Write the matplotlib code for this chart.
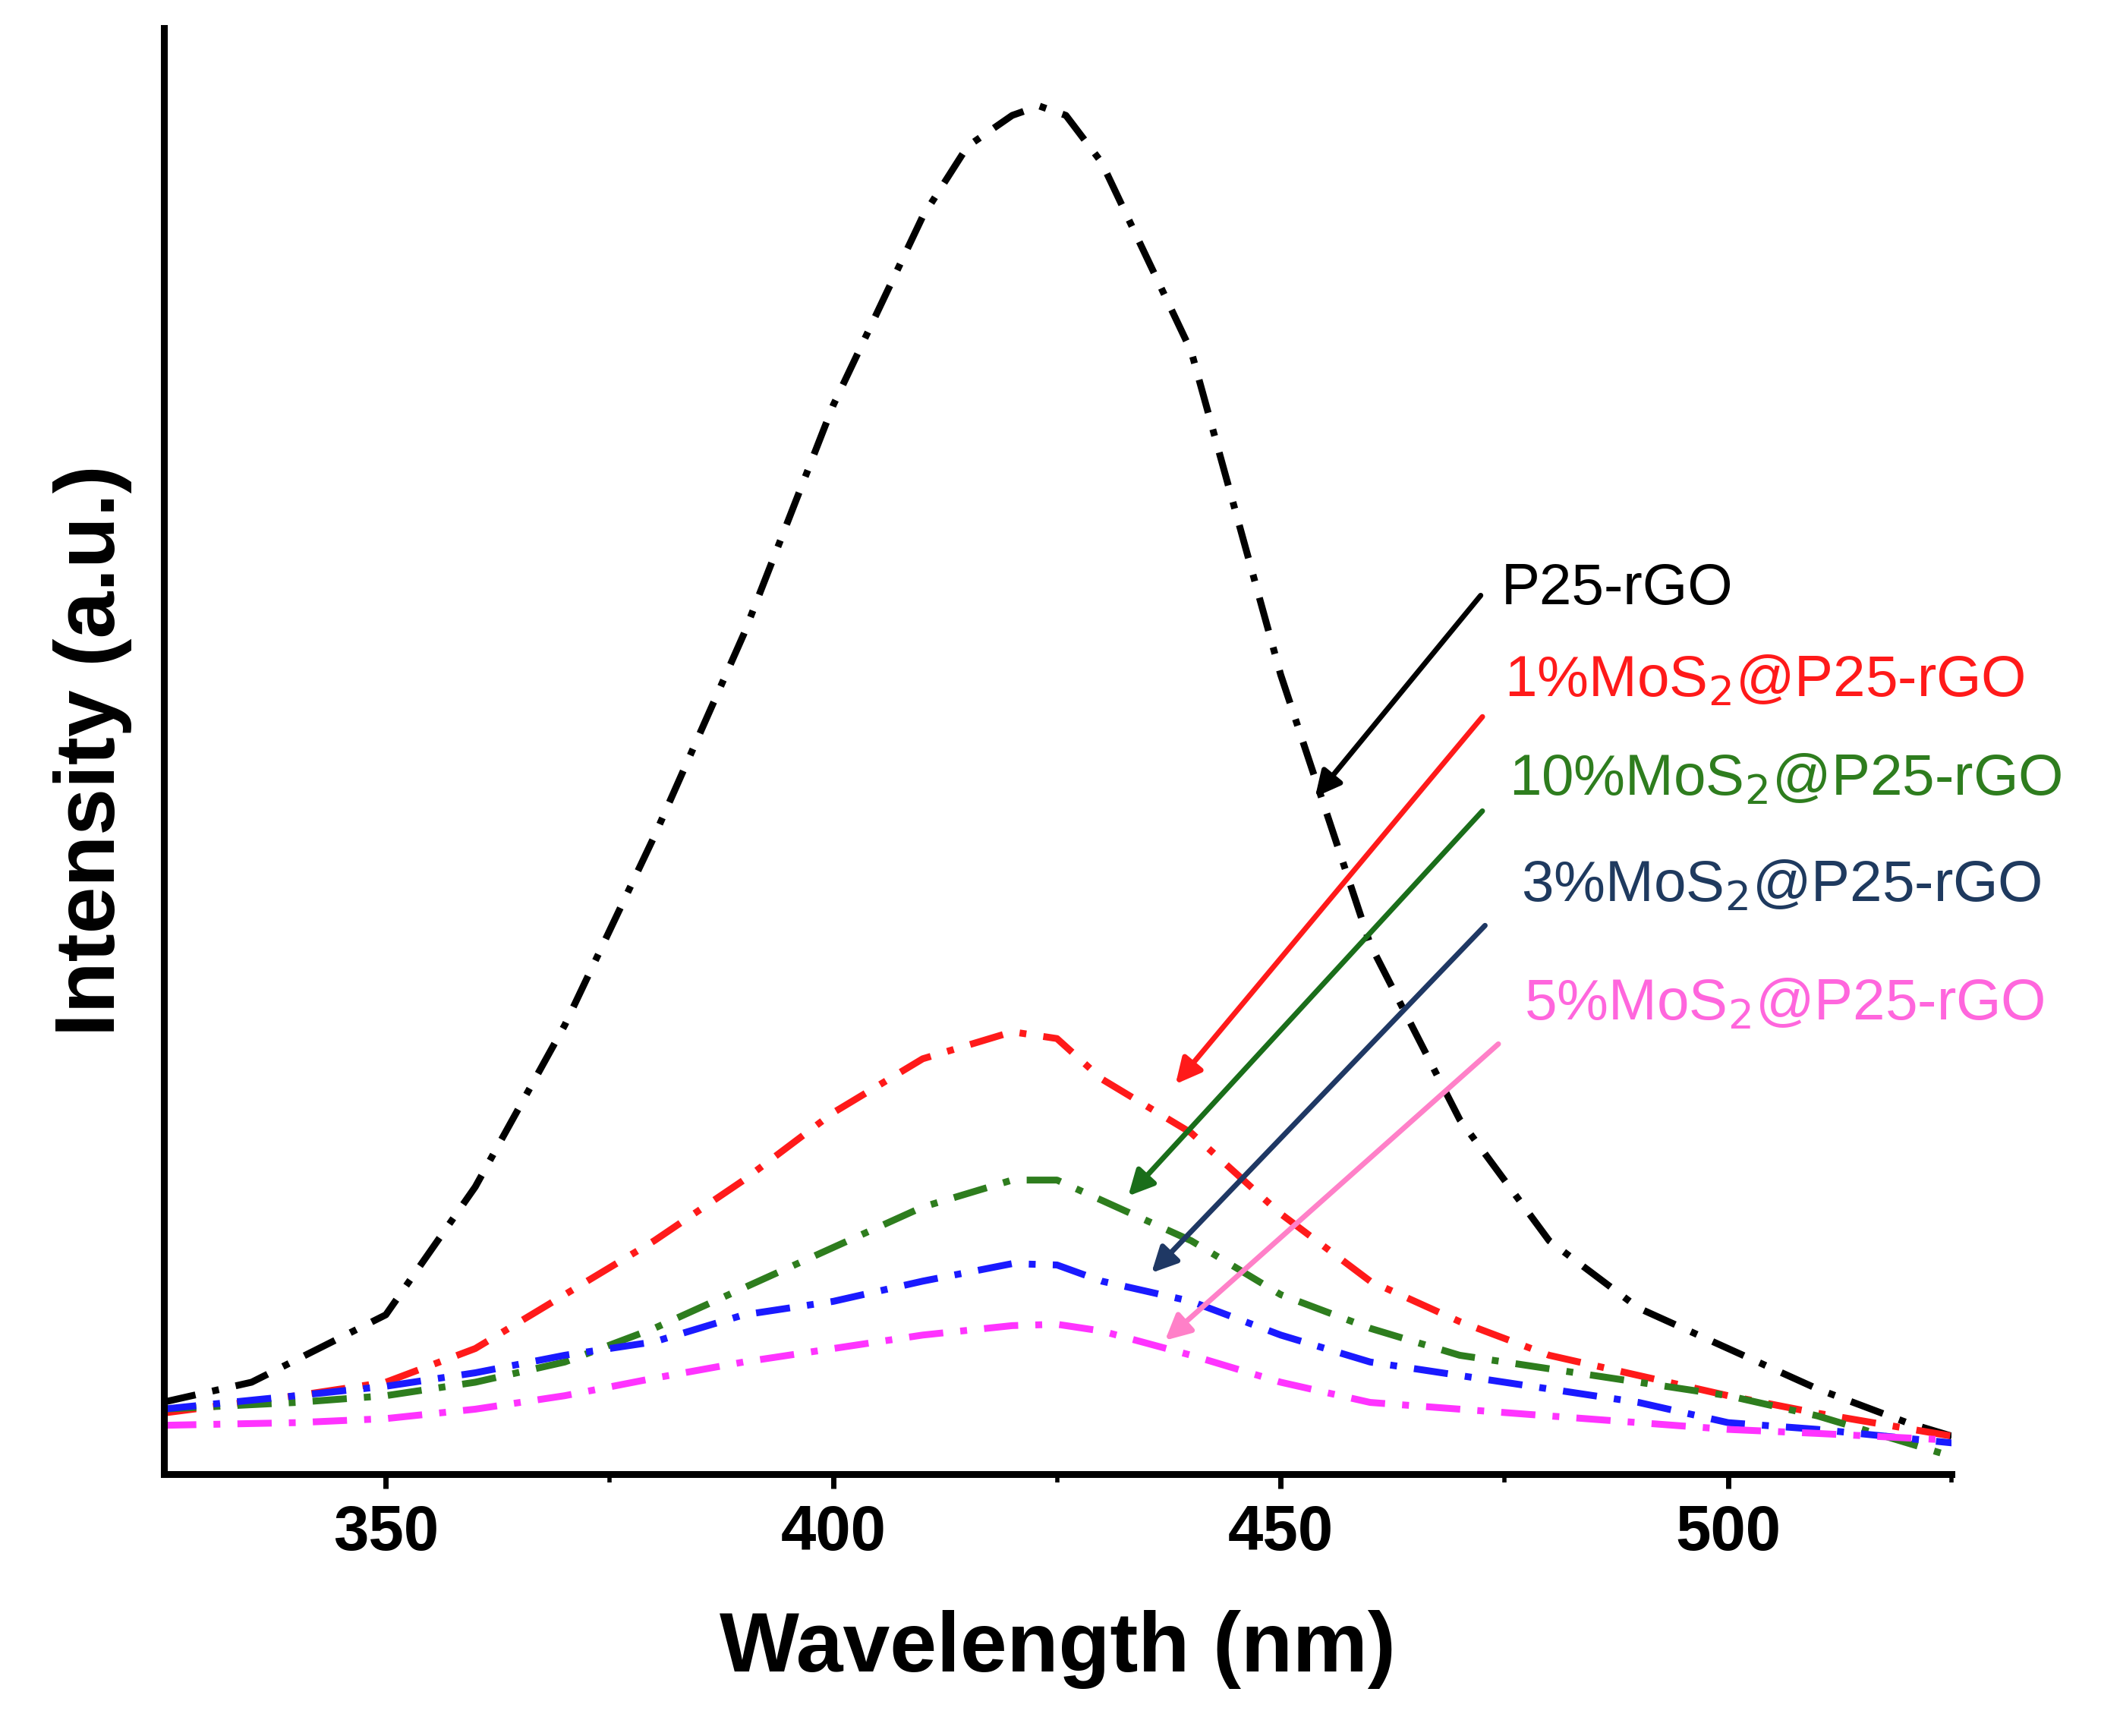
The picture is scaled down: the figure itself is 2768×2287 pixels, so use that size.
import numpy as np
import matplotlib.pyplot as plt
from matplotlib.ticker import MultipleLocator

plt.rcParams['font.family'] = 'Liberation Sans'

# wavelength grid (nm) and read-off intensities (a.u.)
wl = [325, 335, 350, 360, 370, 380, 390, 400, 410, 415, 420, 423, 426, 430, 440, 450, 460, 470, 480, 490, 500, 510, 520, 525]
p25 = [53, 68, 118, 213, 333, 473, 623, 793, 933, 985, 1008, 1015, 1008, 973, 833, 593, 393, 263, 173, 123, 93, 63, 38, 28]

wl2 = [325, 340, 350, 360, 370, 380, 390, 400, 410, 420, 425, 430, 440, 450, 460, 470, 480, 490, 500, 510, 525]
mos1 = [45, 58, 68, 93, 133, 173, 218, 268, 308, 328, 323, 293, 253, 193, 143, 113, 88, 73, 58, 45, 28]
mos10 = [48, 53, 58, 68, 83, 108, 138, 168, 198, 218, 218, 203, 173, 133, 108, 88, 78, 68, 58, 43, 13]
mos3 = [48, 58, 65, 75, 88, 98, 118, 128, 143, 156, 155, 143, 128, 103, 83, 73, 63, 53, 38, 33, 23]
mos5 = [36, 38, 41, 48, 58, 71, 83, 93, 103, 110, 111, 106, 88, 68, 53, 48, 43, 38, 33, 30, 25]

labels = ['P25-rGO', '1%MoS$_2$@P25-rGO', '10%MoS$_2$@P25-rGO', '3%MoS$_2$@P25-rGO', '5%MoS$_2$@P25-rGO']

fig = plt.figure(figsize=[27.68, 22.87], dpi=100)
ax = fig.add_axes([0.078, 0.151, 0.851, 0.833])

lw = 6.5
dash = (5, 2.5, 1, 2.5)
ax.plot(wl, p25, color='black', lw=lw, dashes=dash)
ax.plot(wl2, mos1, color='#ff1a1a', lw=lw, dashes=dash)
ax.plot(wl2, mos10, color='#2e7d1e', lw=lw, dashes=dash)
ax.plot(wl2, mos3, color='#1a1aff', lw=lw, dashes=dash)
ax.plot(wl2, mos5, color='#ff33ff', lw=lw, dashes=dash)

ax.set_xlim(325.2, 525)
ax.set_ylim(0, 1073)
for s in ['top', 'right']:
    ax.spines[s].set_visible(False)
for s in ['left', 'bottom']:
    ax.spines[s].set_linewidth(6.5)
ax.set_yticks([])
ax.xaxis.set_major_locator(MultipleLocator(50))
ax.xaxis.set_minor_locator(MultipleLocator(25))
ax.tick_params(axis='x', which='major', length=14, width=5, labelsize=60, pad=14)
ax.tick_params(axis='x', which='minor', length=8, width=4)
for t in ax.get_xticklabels():
    t.set_fontweight('bold')
ax.set_xlabel('Wavelength (nm)', fontsize=80, fontweight='bold', labelpad=45)
ax.set_ylabel('Intensity (a.u.)', fontsize=80, fontweight='bold', labelpad=30)

# label text positions and arrow start/end (data coords)
txt_pos = [(474.6, 656), (475.0, 588), (475.5, 515), (476.9, 436), (477.2, 348)]
arr_from = [(472.5, 653), (472.7, 563), (472.7, 493), (473.0, 408), (474.5, 320)]
arr_to = [(453.7, 501), (438.1, 288), (432.8, 205), (435.4, 148), (436.9, 98)]
txt_col = ['black', '#ff1a1a', '#2e7d1e', '#1f3a5f', '#ff66dd']
arr_col = ['black', '#ff1a1a', '#1a6e1a', '#1f3864', '#ff80c8']

for lab, tp, a0, a1, tc, ac in zip(labels, txt_pos, arr_from, arr_to, txt_col, arr_col):
    ax.text(tp[0], tp[1], lab, fontsize=55, color=tc, ha='left', va='center')
    ax.annotate('', xy=a1, xytext=a0,
                arrowprops=dict(arrowstyle='-|>', color=ac, lw=5, mutation_scale=50))

plt.savefig('out.png', dpi=100)
